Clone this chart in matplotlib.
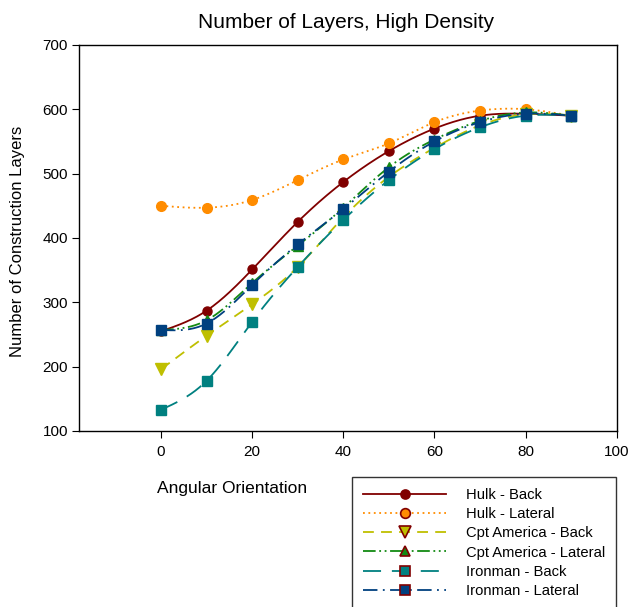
import numpy as np
import matplotlib
matplotlib.use("Agg")
import matplotlib.pyplot as plt
from matplotlib.lines import Line2D

plt.rcParams['font.family'] = ['Liberation Sans', 'DejaVu Sans']

angles = [0, 10, 20, 30, 40, 50, 60, 70, 80, 90]
hulk_back = [255, 287, 351, 425, 487, 535, 570, 590, 593, 590]
hulk_lateral = [450, 447, 459, 490, 522, 547, 580, 598, 600, 590]
cpt_back = [196, 248, 297, 355, 432, 495, 540, 575, 592, 590]
cpt_lateral = [257, 272, 330, 388, 447, 510, 553, 582, 595, 590]
iron_back = [133, 178, 270, 355, 428, 490, 538, 572, 590, 590]
iron_lateral = [257, 267, 327, 390, 445, 503, 550, 580, 593, 590]

labels = ["Hulk - Back", "Hulk - Lateral", "Cpt America - Back",
          "Cpt America - Lateral", "Ironman - Back", "Ironman - Lateral"]
series = [hulk_back, hulk_lateral, cpt_back, cpt_lateral, iron_back, iron_lateral]
colors = ["#800000", "#FF8C00", "#BFBF00", "#138A13", "#008080", "#00407F"]
styles = ["-", (0, (1, 2)), (0, (6, 4)), (0, (7, 2, 1, 2, 1, 2)), (0, (10, 6)), (0, (8, 3, 1, 3))]
markers = ["o", "o", "v", "^", "s", "s"]
msizes = [6.5, 7, 8, 7, 7, 7.5]


def natural_spline(x, y, n=300):
    x = np.asarray(x, float)
    y = np.asarray(y, float)
    k = len(x)
    h = np.diff(x)
    A = np.zeros((k, k))
    b = np.zeros(k)
    A[0, 0] = 1
    A[-1, -1] = 1
    for i in range(1, k - 1):
        A[i, i - 1] = h[i - 1]
        A[i, i] = 2 * (h[i - 1] + h[i])
        A[i, i + 1] = h[i]
        b[i] = 3 * ((y[i + 1] - y[i]) / h[i] - (y[i] - y[i - 1]) / h[i - 1])
    c = np.linalg.solve(A, b)
    xs = np.linspace(x[0], x[-1], n)
    ys = np.empty_like(xs)
    for j, xv in enumerate(xs):
        i = min(np.searchsorted(x, xv, side='right') - 1, k - 2)
        d = xv - x[i]
        bi = (y[i + 1] - y[i]) / h[i] - h[i] * (c[i + 1] + 2 * c[i]) / 3
        di = (c[i + 1] - c[i]) / (3 * h[i])
        ys[j] = y[i] + bi * d + c[i] * d ** 2 + di * d ** 3
    return xs, ys


fig = plt.figure(figsize=(6.3, 6.07), dpi=100)
ax = fig.add_axes([0.1254, 0.29, 0.8536, 0.636])

handles = []
for lab, ys, col, ls, mk, ms in zip(labels, series, colors, styles, markers, msizes):
    sx, sy = natural_spline(angles, ys)
    ax.plot(sx, sy, color=col, linestyle=ls, linewidth=1.3)
    ax.plot(angles, ys, linestyle='none', marker=mk, markersize=ms,
            markerfacecolor=col, markeredgecolor=col)
    handles.append(Line2D([0], [0], color=col, linestyle=ls, linewidth=1.3,
                          marker=mk, markersize=ms, markerfacecolor=col,
                          markeredgecolor="#800000", markeredgewidth=1.2))

ax.set_xlim(-18, 100)
ax.set_ylim(100, 700)
ax.set_xticks([0, 20, 40, 60, 80, 100])
ax.set_yticks([100, 200, 300, 400, 500, 600, 700])
ax.tick_params(direction='out', length=5, labelsize=11)
ax.tick_params(axis='x', pad=5)
ax.tick_params(axis='y', pad=3)
for sp in ax.spines.values():
    sp.set_linewidth(1.0)

fig.text(346 / 630, 1 - 22 / 607, "Number of Layers, High Density",
         fontsize=15, ha='center', va='center')
fig.text(18 / 630, 1 - 241 / 607, "Number of Construction Layers",
         fontsize=12, rotation=90, ha='center', va='center')
fig.text(232 / 630, 1 - 488 / 607, "Angular Orientation", fontsize=12.5,
         ha='center', va='center')

leg = fig.legend(handles=handles, labels=labels, loc='upper left',
                 bbox_to_anchor=(352 / 630, 1 - 477 / 607),
                 bbox_transform=fig.transFigure, fontsize=10.6,
                 handlelength=5.64, handletextpad=1.36, labelspacing=0.35,
                 borderpad=0.75, fancybox=False, frameon=True,
                 borderaxespad=0)
leg.get_frame().set_edgecolor('black')
leg.get_frame().set_linewidth(1.0)

fig.savefig("out.png", dpi=100)
